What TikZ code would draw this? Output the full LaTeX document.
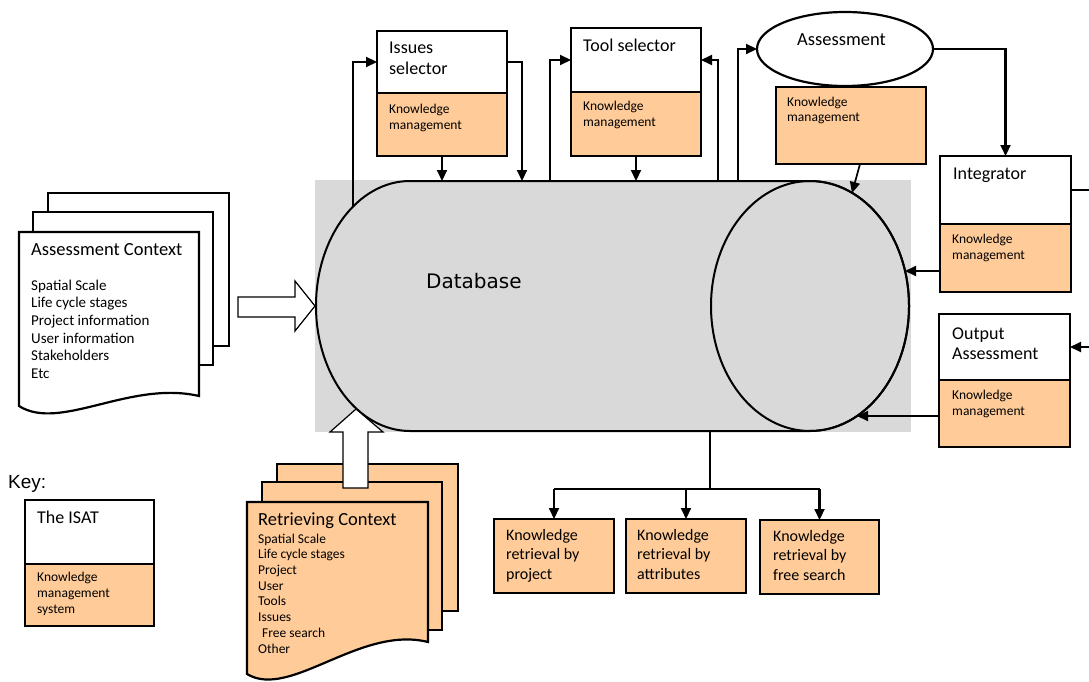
\documentclass[tikz,border=0pt]{standalone}
\usepackage{fontspec}
\setmainfont{Carlito}
\newfontfamily\keyfont{Liberation Sans}
\newfontfamily\dbfont{DejaVu Sans}
\usetikzlibrary{arrows.meta,calc,shapes.geometric}
\definecolor{kmorange}{RGB}{255,204,153}
\definecolor{dbgray}{RGB}{217,217,217}
\def\fs#1#2{\fontsize{#1}{#2}\selectfont}
\tikzset{
	isat/.style={draw, line width=2.2pt, fill=white, inner sep=0pt, outer sep=0pt, anchor=north west},
	km/.style={isat, fill=kmorange},
	page/.style={draw, line width=2.2pt},
	flow/.style={line width=2.1pt, -{Triangle[length=11pt,width=10pt]}},
	link/.style={line width=2.1pt},
	% multi-line labels sit on the baseline of their last line
	txt/.style={anchor=base west, inner sep=0pt, align=left},
	blockarrow/.style={draw, line width=1.2pt, fill=white}
}

\begin{document}
\begin{tikzpicture}[x=1pt, y=-1pt]
			%%%%% START %%%%%
			\useasboundingbox (0,0) rectangle (1089,682);
			
			% database
			\node[fill=dbgray, minimum width=596, minimum height=252, inner sep=0pt, outer sep=0pt, anchor=north west] (dbbg) at (315,180) {};
			\draw[line width=2pt, fill=dbgray] (410,181) -- (810,181) arc[start angle=-90, end angle=90, x radius=99, y radius=125]
				-- (410,431) arc[start angle=90, end angle=270, x radius=94, y radius=125] -- cycle;
			\draw[line width=2pt] (810,306) ellipse [x radius=99, y radius=125];
			\node[txt, font=\dbfont\fs{20}{24}] (dblabel) at (426,288) {Database};
			
			\coordinate (dbtop) at (612,181);
			\coordinate (t0) at (353,207);
			\coordinate (t1) at (522,181);
			\coordinate (t2) at (550,181);
			\coordinate (t3) at (718,181);
			\coordinate (t4) at (738,181);
			\coordinate (e0) at (852,193);
			\coordinate (e1) at (905,271);
			\coordinate (e2) at (857,416);
			\coordinate (dbtap) at (710,431);
			\coordinate (fork) at (710,489);
			\coordinate (rim) at (1089,0);
			
			% assessment context pages
			\draw[page, fill=white] (48,193) rectangle (229,346);
			\draw[page, fill=white] (33,212) rectangle (213,365);
			\draw[page, fill=white] (19,232) -- (199,232) -- (199,396) .. controls (130,380) and (60,432) .. (19,406) -- cycle;
			\node[txt, font=\fs{18.5}{22}] (ctx) at (31,255) {Assessment Context};
			\node[txt, font=\fs{15}{17.7}] (ctxlist) at (31,378.5) {Spatial Scale\\Life cycle stages\\Project information\\User information\\Stakeholders\\Etc};
			\draw[blockarrow] (238,297) -- (295,297) -- (295,281) -- (315,306) -- (295,331) -- (295,317) -- (238,317) -- cycle;
			
			% retrieving context pages
			\draw[page, fill=kmorange] (277,464) rectangle (458,611);
			\draw[page, fill=kmorange] (262,482) rectangle (442,630);
			\draw[page, fill=kmorange] (247,502) -- (428,502) -- (428,642) .. controls (360,625) and (290,700) .. (247,674) -- cycle;
			\node[txt, font=\fs{18.5}{22}] (rtv) at (258,525) {Retrieving Context};
			\node[txt, font=\fs{13.5}{15.7}] (rtvlist) at (258,653) {Spatial Scale\\Life cycle stages\\Project\\User\\Tools\\Issues\\\hspace{4pt}Free search\\Other};
			\draw[blockarrow] (343,488) -- (343,432) -- (330,432) -- (356,409) -- (383,432) -- (368,432) -- (368,488) -- cycle;
			
			% issues selector
			\node[isat, minimum width=130, minimum height=62] (issues) at (377,31) {};
			\node[km, minimum width=130, minimum height=63] (issueskm) at (issues.south west) {};
			\node[txt, font=\fs{18}{21}] (issueslbl) at (389,75) {Issues\\selector};
			\node[txt, font=\fs{13.5}{16}] (issueskmlbl) at (389,129) {Knowledge\\management};
			
			% tool selector
			\node[isat, minimum width=130, minimum height=64] (tool) at (571,28) {};
			\node[km, minimum width=130, minimum height=64] (toolkm) at (tool.south west) {};
			\node[txt, font=\fs{18}{21}] (toollbl) at (583,52) {Tool selector};
			\node[txt, font=\fs{13.5}{16}] (toolkmlbl) at (583,127) {Knowledge\\management};
			
			% assessment
			\node[draw, ellipse, line width=2.2pt, fill=white, minimum width=176, minimum height=74, inner sep=0pt, outer sep=0pt] (assess) at (845,49) {};
			\node[txt, font=\fs{18.5}{22}] (assesslbl) at (797,46) {Assessment};
			\node[km, minimum width=150, minimum height=77] (assesskm) at (776,87) {};
			\node[txt, font=\fs{13.5}{16}] (assesskmlbl) at (787,122) {Knowledge\\management};
			
			% integrator
			\node[isat, minimum width=131, minimum height=68] (integ) at (940,156) {};
			\node[km, minimum width=131, minimum height=68] (integkm) at (integ.south west) {};
			\node[txt, font=\fs{18}{21}] (integlbl) at (953,179) {Integrator};
			\node[txt, font=\fs{13.5}{16}] (integkmlbl) at (952,259) {Knowledge\\management};
			
			% output assessment
			\node[isat, minimum width=131, minimum height=66] (output) at (939,314) {};
			\node[km, minimum width=131, minimum height=67] (outputkm) at (output.south west) {};
			\node[txt, font=\fs{18}{20}] (outputlbl) at (952,359) {Output\\Assessment};
			\node[txt, font=\fs{13.5}{16}] (outputkmlbl) at (952,415) {Knowledge\\management};
			
			% knowledge retrieval
			\node[km, minimum width=120, minimum height=74] (kr1) at (494,519) {};
			\node[km, minimum width=120, minimum height=74] (kr2) at (626,519) {};
			\node[km, minimum width=119, minimum height=74] (kr3) at (760,520) {};
			\node[txt, font=\fs{16}{19.5}] (kr1lbl) at (506,579) {Knowledge\\retrieval by\\project};
			\node[txt, font=\fs{16}{19.5}] (kr2lbl) at (637,579) {Knowledge\\retrieval by\\attributes};
			\node[txt, font=\fs{16}{19.5}] (kr3lbl) at (773,580) {Knowledge\\retrieval by\\free search};
			
			% key
			\node[txt, font=\keyfont\fs{19}{22}] (keylbl) at (8,488) {Key:};
			\node[isat, minimum width=129, minimum height=64] (key) at (25,500) {};
			\node[km, minimum width=129, minimum height=62] (keykm) at (key.south west) {};
			\node[txt, font=\fs{18}{21}] (keyisat) at (37,523) {The ISAT};
			\node[txt, font=\fs{13.5}{16}] (keykmlbl) at (37,613) {Knowledge\\management\\system};
			
			% connectors
			\draw[flow] (issueskm.south) -- (issueskm.south |- dbtop);
			\draw[flow] (issues.east) -| (t1);
			\draw[flow] (t0) |- (issues.west);
			\draw[flow] (t2) |- (tool.west);
			\draw[flow] (toolkm.south) -- (toolkm.south |- dbtop);
			\draw[flow] (t3) |- (tool.east);
			\draw[flow] (t4) |- (assess.west);
			\draw[flow] (assess.east) -| (integ.north);
			\draw[flow, line width=1.7pt] ($(assesskm.south east)+(-66,0)$) -- (e0);
			\draw[link] (integ.east) -- (integ.east -| rim);
			\draw[flow] (output.east -| rim) -- (output.east);
			\draw[flow] (integkm.west |- e1) -- (e1);
			\draw[flow] (outputkm.west |- e2) -- (e2);
			
			\draw[link] (dbtap) -- (fork);
			\draw[link] (kr1.north |- fork) -- (kr3.north |- fork);
			\foreach \k in {kr1,kr2,kr3}
				\draw[flow] (\k.north |- fork) -- (\k.north);
			
			%%%%% END %%%%%
\end{tikzpicture}
\end{document}
